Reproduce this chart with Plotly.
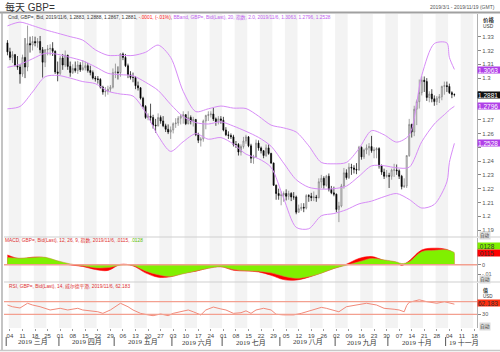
import pandas as pd
import plotly.graph_objects as go

# ---------------- data ----------------
dates = pd.bdate_range("2019-03-01", "2019-11-06")

opens = [1.3255,
 1.3190,1.3150,1.3170,1.3090,1.3080, 1.3030,1.3150,1.3080,1.3250,1.3240,
 1.3265,1.3255,1.3265,1.3205,1.3115, 1.3205,1.3210,1.3215,1.3195,1.3045,
 1.3035,1.3145,1.3095,1.3165,1.3085, 1.3040,1.3070,1.3055,1.3095,1.3060,
 1.3075,1.3090,1.3055,1.3040,1.3000, 1.2995,1.2990,1.2935,1.2900,1.2905,
 1.2920,1.2935,1.3040,1.3045,1.3040, 1.3175,1.3150,1.3090,1.3025,1.3005,
 1.3005,1.2945,1.2930,1.2855,1.2795, 1.2715,1.2725,1.2715,1.2660,1.2655,
 1.2715,1.2690,1.2655,1.2630,1.2610, 1.2625,1.2670,1.2675,1.2710,1.2725,
 1.2735,1.2670,1.2715,1.2690,1.2700, 1.2590,1.2550,1.2560,1.2690,1.2730,
 1.2735,1.2740,1.2705,1.2685,1.2705, 1.2695,1.2625,1.2590,1.2585,1.2575,
 1.2520,1.2520,1.2465,1.2505,1.2545, 1.2575,1.2510,1.2420,1.2430,1.2530,
 1.2495,1.2475,1.2440,1.2495,1.2455, 1.2385,1.2225,1.2165,1.2150,1.2155,
 1.2165,1.2145,1.2165,1.2140,1.2140, 1.2030,1.2055,1.2065,1.2060,1.2150,
 1.2145,1.2135,1.2140,1.2135,1.2250, 1.2275,1.2225,1.2290,1.2195,1.2170,
 1.2160,1.2050,1.2075,1.2220,1.2315, 1.2280,1.2355,1.2350,1.2340,1.2335,
 1.2500,1.2430,1.2480,1.2495,1.2505, 1.2475,1.2480,1.2490,1.2365,1.2320,
 1.2290,1.2295,1.2290,1.2335,1.2335, 1.2330,1.2290,1.2215,1.2220,1.2440,
 1.2665,1.2610,1.2775,1.2830,1.2895, 1.2985,1.2975,1.2860,1.2885,1.2850,
 1.2830,1.2855,1.2865,1.2940,1.2945, 1.2940,1.2895,1.2883]

highs = [1.3275,
 1.3220,1.3195,1.3175,1.3160,1.3100, 1.3170,1.3290,1.3380,1.3300,1.3305,
 1.3300,1.3290,1.3305,1.3225,1.3210, 1.3240,1.3245,1.3260,1.3200,1.3120,
 1.3160,1.3175,1.3200,1.3170,1.3120, 1.3100,1.3120,1.3125,1.3115,1.3130,
 1.3120,1.3110,1.3090,1.3055,1.3015, 1.3015,1.3000,1.2945,1.2935,1.2945,
 1.2950,1.3070,1.3105,1.3085,1.3180, 1.3185,1.3175,1.3105,1.3050,1.3040,
 1.3015,1.2975,1.2935,1.2865,1.2805, 1.2745,1.2815,1.2735,1.2705,1.2745,
 1.2730,1.2725,1.2670,1.2665,1.2650, 1.2680,1.2710,1.2725,1.2740,1.2760,
 1.2740,1.2760,1.2730,1.2720,1.2705, 1.2605,1.2575,1.2700,1.2735,1.2760,
 1.2760,1.2784,1.2715,1.2725,1.2725, 1.2720,1.2645,1.2615,1.2600,1.2590,
 1.2545,1.2530,1.2520,1.2575,1.2590, 1.2580,1.2525,1.2445,1.2555,1.2550,
 1.2505,1.2480,1.2520,1.2520,1.2460, 1.2390,1.2230,1.2200,1.2180,1.2180,
 1.2195,1.2185,1.2175,1.2175,1.2150, 1.2085,1.2095,1.2095,1.2160,1.2160,
 1.2170,1.2180,1.2155,1.2275,1.2300, 1.2290,1.2300,1.2310,1.2220,1.2215,
 1.2165,1.2105,1.2235,1.2350,1.2340, 1.2385,1.2380,1.2370,1.2385,1.2510,
 1.2505,1.2490,1.2520,1.2530,1.2582, 1.2500,1.2500,1.2500,1.2375,1.2345,
 1.2335,1.2315,1.2345,1.2380,1.2375, 1.2340,1.2300,1.2275,1.2440,1.2705,
 1.2670,1.2800,1.2845,1.2990,1.3013, 1.3012,1.3000,1.2905,1.2920,1.2875,
 1.2870,1.2885,1.2945,1.2975,1.2975, 1.2960,1.2905,1.2888]

lows = [1.3165,
 1.3130,1.3110,1.3085,1.3060,1.2960, 1.3010,1.3000,1.3050,1.3185,1.3200,
 1.3230,1.3220,1.3180,1.3004,1.3080, 1.3165,1.3165,1.3160,1.3030,1.2977,
 1.3020,1.3060,1.3080,1.3060,1.3010, 1.3030,1.3040,1.3030,1.3045,1.3055,
 1.3055,1.3040,1.3020,1.2990,1.2975, 1.2960,1.2925,1.2880,1.2866,1.2880,
 1.2900,1.2925,1.3000,1.2990,1.3010, 1.3130,1.3080,1.3000,1.2990,1.2970,
 1.2920,1.2910,1.2845,1.2780,1.2705, 1.2695,1.2680,1.2635,1.2605,1.2650,
 1.2670,1.2645,1.2610,1.2595,1.2560, 1.2600,1.2640,1.2655,1.2665,1.2670,
 1.2660,1.2665,1.2665,1.2650,1.2580, 1.2530,1.2505,1.2540,1.2630,1.2690,
 1.2715,1.2690,1.2655,1.2665,1.2670, 1.2615,1.2580,1.2560,1.2560,1.2505,
 1.2495,1.2440,1.2440,1.2490,1.2525, 1.2500,1.2385,1.2380,1.2425,1.2475,
 1.2455,1.2420,1.2430,1.2445,1.2380, 1.2220,1.2120,1.2120,1.2080,1.2105,
 1.2115,1.2120,1.2110,1.2120,1.2015, 1.2025,1.2040,1.2030,1.2050,1.2105,
 1.2110,1.2110,1.2105,1.2130,1.2205, 1.2200,1.2215,1.2180,1.2160,1.2145,
 1.2030,1.1958,1.2065,1.2200,1.2265, 1.2270,1.2300,1.2310,1.2305,1.2330,
 1.2410,1.2415,1.2450,1.2440,1.2460, 1.2420,1.2420,1.2345,1.2300,1.2270,
 1.2280,1.2205,1.2265,1.2285,1.2300, 1.2270,1.2195,1.2205,1.2205,1.2430,
 1.2570,1.2580,1.2660,1.2780,1.2875, 1.2900,1.2835,1.2825,1.2825,1.2800,
 1.2805,1.2820,1.2840,1.2880,1.2900, 1.2885,1.2855,1.2867]

closes = [1.3190,
 1.3150,1.3170,1.3090,1.3080,1.3030, 1.3150,1.3080,1.3250,1.3240,1.3265,
 1.3255,1.3265,1.3205,1.3115,1.3205, 1.3210,1.3215,1.3195,1.3045,1.3035,
 1.3145,1.3095,1.3165,1.3085,1.3040, 1.3070,1.3055,1.3095,1.3060,1.3075,
 1.3090,1.3055,1.3040,1.3000,1.2995, 1.2990,1.2935,1.2900,1.2905,1.2920,
 1.2935,1.3040,1.3045,1.3040,1.3175, 1.3150,1.3090,1.3025,1.3005,1.3005,
 1.2945,1.2930,1.2855,1.2795,1.2715, 1.2725,1.2715,1.2660,1.2655,1.2715,
 1.2690,1.2655,1.2630,1.2610,1.2625, 1.2670,1.2675,1.2710,1.2725,1.2735,
 1.2670,1.2715,1.2690,1.2700,1.2590, 1.2550,1.2560,1.2690,1.2730,1.2735,
 1.2740,1.2705,1.2685,1.2705,1.2695, 1.2625,1.2590,1.2585,1.2575,1.2520,
 1.2520,1.2465,1.2505,1.2545,1.2575, 1.2510,1.2420,1.2430,1.2530,1.2495,
 1.2475,1.2440,1.2495,1.2455,1.2385, 1.2225,1.2165,1.2150,1.2155,1.2165,
 1.2145,1.2165,1.2140,1.2140,1.2030, 1.2055,1.2065,1.2060,1.2150,1.2145,
 1.2135,1.2140,1.2135,1.2250,1.2275, 1.2225,1.2290,1.2195,1.2170,1.2160,
 1.2050,1.2075,1.2220,1.2315,1.2280, 1.2355,1.2350,1.2340,1.2335,1.2500,
 1.2430,1.2480,1.2495,1.2505,1.2475, 1.2480,1.2490,1.2365,1.2320,1.2290,
 1.2295,1.2290,1.2335,1.2335,1.2330, 1.2290,1.2215,1.2220,1.2440,1.2665,
 1.2610,1.2775,1.2830,1.2895,1.2985, 1.2975,1.2860,1.2885,1.2850,1.2830,
 1.2855,1.2865,1.2940,1.2945,1.2940, 1.2895,1.2882,1.2881]

# Bollinger (20, 2.0) values read at weekly points
bb_dates = ["2019-03-01","2019-03-08","2019-03-15","2019-03-22","2019-03-29","2019-04-05",
            "2019-04-12","2019-04-19","2019-04-26","2019-05-03","2019-05-10","2019-05-17",
            "2019-05-24","2019-05-31","2019-06-07","2019-06-14","2019-06-21","2019-06-28",
            "2019-07-05","2019-07-12","2019-07-19","2019-07-26","2019-08-02","2019-08-09",
            "2019-08-16","2019-08-23","2019-08-30","2019-09-06","2019-09-13","2019-09-20",
            "2019-09-27","2019-10-04","2019-10-11","2019-10-18","2019-10-25","2019-11-01",
            "2019-11-04","2019-11-06"]
bb_upper = [1.3378,1.3405,1.3380,1.3350,1.3325,1.3300,1.3275,1.3205,1.3165,1.3165,1.3164,1.3187,
            1.3239,1.3150,1.2904,1.2758,1.2778,1.2798,1.2783,1.2780,1.2725,1.2660,1.2640,1.2610,
            1.2510,1.2390,1.2380,1.2390,1.2490,1.2620,1.2590,1.2537,1.2588,1.3020,1.3250,1.3255,
            1.3150,1.3063]
bb_mid = [1.3078,1.3100,1.3140,1.3180,1.3172,1.3150,1.3125,1.3082,1.3035,1.3025,1.3017,1.2970,
          1.2911,1.2810,1.2722,1.2678,1.2668,1.2684,1.2653,1.2615,1.2571,1.2507,1.2385,1.2265,
          1.2210,1.2197,1.2200,1.2219,1.2290,1.2365,1.2366,1.2351,1.2355,1.2540,1.2668,1.2752,
          1.2770,1.2796]
bb_lower = [1.2778,1.2795,1.2900,1.3010,1.3020,1.3000,1.2975,1.2960,1.2905,1.2885,1.2870,1.2753,
            1.2583,1.2470,1.2540,1.2598,1.2558,1.2570,1.2523,1.2450,1.2417,1.2354,1.2130,1.1920,
            1.1910,1.2004,1.2020,1.2048,1.2090,1.2110,1.2142,1.2165,1.2122,1.2060,1.2086,1.2249,
            1.2390,1.2528]

# MACD (12, 26, 9) read at weekly points
macd_dates = ["2019-03-01","2019-03-08","2019-03-15","2019-03-22","2019-03-29","2019-04-05",
              "2019-04-12","2019-04-19","2019-04-26","2019-05-03","2019-05-10","2019-05-17",
              "2019-05-24","2019-05-31","2019-06-07","2019-06-14","2019-06-21","2019-06-28",
              "2019-07-05","2019-07-12","2019-07-19","2019-07-26","2019-08-02","2019-08-09",
              "2019-08-16","2019-08-23","2019-08-30","2019-09-06","2019-09-13","2019-09-20",
              "2019-09-27","2019-10-04","2019-10-08","2019-10-11","2019-10-18","2019-10-25",
              "2019-11-01","2019-11-06"]
macd_line = [0.0101,0.0062,0.0078,0.0072,0.0025,-0.0002,-0.0018,-0.0050,-0.0060,0.0003,-0.0012,-0.0085,
             -0.0130,-0.0125,-0.0088,-0.0068,-0.0035,-0.0020,-0.0058,-0.0065,-0.0075,-0.0110,-0.0155,-0.0160,
             -0.0130,-0.0085,-0.0038,0.0005,0.0065,0.0085,0.0045,0.0022,-0.0008,0.0040,0.0153,0.0172,
             0.0158,0.0115]
macd_signal = [0.0075,0.0068,0.0075,0.0077,0.0040,0.0008,-0.0012,-0.0032,-0.0030,-0.0005,-0.0008,-0.0065,
               -0.0105,-0.0122,-0.0095,-0.0065,-0.0038,-0.0022,-0.0050,-0.0062,-0.0068,-0.0085,-0.0120,-0.0142,
               -0.0125,-0.0088,-0.0040,-0.0005,0.0030,0.0065,0.0050,0.0028,0.0012,0.0030,0.0135,0.0150,
               0.0155,0.0128]

# RSI (14) read at trading-day positions
rsi_idx = [0,2,5,8,10,13,17,21,24,28,30,33,36,38,41,45,48,50,53,56,58,61,64,66,69,72,74,77,79,82,
           85,87,90,93,95,97,99,102,105,107,110,114,117,119,122,125,127,130,132,135,139,143,147,150,
           154,156,158,159,160,162,164,167,171,174,176,178]
rsi_vals = [59.5,54,50,65,59.5,54,43.7,49,43.7,49,43.7,40.5,38,33,43.7,65,54,43.7,33,28,25.6,31,25.6,
            33,38,43.7,38,28,43.7,53,47,43.7,33,35,41,33,43.7,49,43.7,30,28,28,33,38,43.7,52,49,43.7,
            38,54,59.5,65,59.5,49,46,43.7,38,58,68,73,76,70,65,70,65,62.2]

week_ticks = pd.date_range("2019-03-04", "2019-11-18", freq="W-MON")
week_labels = ["04","11","18","25","01","08","15","22","29","06","13","20","27","03","10","17",
               "24","01","08","15","22","29","05","12","19","26","02","09","16","23","30","07",
               "14","21","28","04","11","18"]
month_labels = ["2019 三月","2019 四月","2019 五月","2019 六月","2019 七月","2019 八月",
                "2019 九月","2019 十月"]
month_centers = ["2019-03-15","2019-04-15 12:00","2019-05-16","2019-06-14 12:00","2019-07-16",
                 "2019-08-15 12:00","2019-09-16","2019-10-16"]
month_seps = ["2019-02-28 12:00","2019-03-29 12:00","2019-04-30 12:00","2019-05-31 12:00",
              "2019-06-28 12:00","2019-07-31 12:00","2019-08-30 12:00","2019-09-30 12:00",
              "2019-10-31 12:00"]
price_ticks = [1.19,1.2,1.21,1.22,1.23,1.24,1.25,1.26,1.27,1.28,1.29,1.3,1.31,1.32,1.33]
# labels at 1.25, 1.28, 1.29 lie under the value badges
price_tick_text = ["1.19","1.2","1.21","1.22","1.23","1.24","","1.26","1.27","","",
                   "1.3","1.31","1.32","1.33"]

# ---------------- layout geometry (pixels) ----------------
W, H = 500, 352
L, R, T, B = 4, 23, 14, 24
PW, PH = W - L - R, H - T - B
def px(xp):  # pixel x -> paper
    return (xp - L) / PW
def py(yp):  # pixel y -> paper
    return (H - B - yp) / PH

SANS = "Liberation Sans, Arial, Noto Sans CJK SC, sans-serif"
SERIF = "Liberation Serif, Noto Sans CJK SC, serif"
BB_COL = "#d78cf7"

fig = go.Figure()

fig.add_trace(go.Candlestick(
    x=dates, open=opens, high=highs, low=lows, close=closes,
    increasing=dict(line=dict(color="#7a7a7a", width=0.7), fillcolor="#f4f4f4"),
    decreasing=dict(line=dict(color="#000000", width=0.7), fillcolor="#000000"),
    whiskerwidth=0, showlegend=False, hoverinfo="skip", xaxis="x", yaxis="y"))

for vals in (bb_upper, bb_mid, bb_lower):
    fig.add_trace(go.Scatter(x=bb_dates, y=vals, mode="lines",
                             line=dict(color=BB_COL, width=1, shape="spline", smoothing=0.8),
                             showlegend=False, hoverinfo="skip", xaxis="x", yaxis="y"))

# MACD: red = MACD area, green = signal area on top
fig.add_trace(go.Scatter(x=macd_dates, y=macd_line, mode="lines", fill="tozeroy",
                         fillcolor="#ff0000", line=dict(color="#ff0000", width=0.6, shape="spline"),
                         showlegend=False, hoverinfo="skip", xaxis="x", yaxis="y2"))
fig.add_trace(go.Scatter(x=macd_dates, y=macd_signal, mode="lines", fill="tozeroy",
                         fillcolor="#80f000", line=dict(color="#c89a40", width=0.6, shape="spline"),
                         showlegend=False, hoverinfo="skip", xaxis="x", yaxis="y2"))

fig.add_trace(go.Scatter(x=[dates[i] for i in rsi_idx], y=rsi_vals, mode="lines",
                         line=dict(color="#f28a7a", width=1),
                         showlegend=False, hoverinfo="skip", xaxis="x", yaxis="y3"))

shapes = []
# weekly stripes
for k in range(0, len(week_ticks), 2):
    m = week_ticks[k]
    shapes.append(dict(type="rect", xref="x", yref="paper",
                       x0=m - pd.Timedelta(hours=60), x1=m + pd.Timedelta(hours=108),
                       y0=0, y1=1, fillcolor="#f3f3f3", line=dict(width=0), layer="below"))
# MACD zero line, RSI bands
shapes.append(dict(type="line", xref="paper", yref="y2", x0=0, x1=1, y0=0, y1=0,
                   line=dict(color="#f3a090", width=1.5)))
for lv in (70, 30):
    shapes.append(dict(type="line", xref="paper", yref="y3", x0=0, x1=1, y0=lv, y1=lv,
                       line=dict(color="#f3a090", width=1.2)))
# panel separators & frame
for yy in (237, 282):
    shapes.append(dict(type="line", xref="paper", yref="paper", x0=0, x1=px(500),
                       y0=py(yy), y1=py(yy), line=dict(color="#cfcfcf", width=1)))
shapes.append(dict(type="line", xref="paper", yref="paper", x0=px(0), x1=px(500),
                   y0=py(12.5), y1=py(12.5), line=dict(color="#a0a0a0", width=2)))
shapes.append(dict(type="line", xref="paper", yref="paper", x0=px(2), x1=px(2),
                   y0=py(12.5), y1=py(350), line=dict(color="#b0b0b0", width=1.5)))
shapes.append(dict(type="line", xref="paper", yref="paper", x0=px(0), x1=px(500),
                   y0=py(350.5), y1=py(350.5), line=dict(color="#c8c8c8", width=1.5)))
# month separators
for s in month_seps:
    shapes.append(dict(type="line", xref="x", yref="paper", x0=s, x1=s,
                       y0=py(337), y1=py(346), line=dict(color="#555555", width=1)))

ann = []
def text(x, y, s, size, color="#333", xanchor="left", family=SANS, **kw):
    ann.append(dict(x=x, y=y, xref="paper", yref="paper", text=s, showarrow=False,
                    xanchor=xanchor, yanchor="middle", font=dict(size=size, color=color, family=family),
                    **kw))

text(px(3), py(7), "每天 GBP=", 10, "#333")
text(px(497), py(7), "2019/3/1 - 2019/11/19 (GMT)", 5, "#555", xanchor="right")
text(px(6), py(17), "Cndl, GBP=, Bid, 2019/11/6, 1.2883, 1.2888, 1.2867, 1.2881, "
     "<span style='color:#ff2020'>-.0001, (-.01%)</span>, "
     "<span style='color:#c060f0'>BBand, GBP=, Bid(Last), 20, 指数, 2.0, 2019/11/6, 1.3063, 1.2796, 1.2528</span>",
     4.8, "#333")
text(px(3), py(240.5), "MACD, GBP=, Bid(Last), 12, 26, 9, 指数, 2019/11/6, .0115, "
     "<span style='color:#60c000'>.0128</span>", 4.8, "#e03030")
text(px(7), py(286), "RSI, GBP=, Bid(Last), 14, 威尔德平滑, 2019/11/6, 62.183", 4.8, "#e03030")

text(px(481), py(20), "<b>价格</b>", 5.5, "#333")
text(px(481), py(26.5), "USD", 4.8, "#333")
text(px(481), py(290.5), "<b>值</b>", 5, "#333")
text(px(481), py(296), "USD", 4.5, "#333")
text(px(479), py(235.4), "自动", 4.5, "#333", bgcolor="#dcdcdc", borderpad=0)
text(px(479), py(279.5), "自动", 4.8, "#333", bgcolor="#dcdcdc", borderpad=0)
text(px(479), py(326), "自动", 4.8, "#333", bgcolor="#dcdcdc", borderpad=0)

def badge(y, yref, s, bg, fg):
    ann.append(dict(x=px(477.5), y=y, xref="paper", yref=yref, text=s, showarrow=False,
                    xanchor="left", yanchor="middle", bgcolor=bg, width=22, height=6,
                    align="left", borderpad=0,
                    font=dict(size=6.5, color=fg, family=SANS)))

badge(py(70), "paper", "1.3063", "#b040e8", "#ffffff")
badge(1.2881, "y", "1.2881", "#111111", "#ffffff")
badge(1.2796, "y", "1.2796", "#b040e8", "#ffffff")
badge(1.2528, "y", "1.2528", "#b040e8", "#ffffff")
badge(py(245.5), "paper", ".0128", "#80f000", "#333333")
badge(py(252.5), "paper", ".0115", "#ff0000", "#333333")
badge(py(303.3), "paper", "62.183", "#ff3010", "#333333")

for lab, c in zip(month_labels, month_centers):
    ann.append(dict(x=c, y=py(342), xref="x", yref="paper", text=lab, showarrow=False,
                    xanchor="center", yanchor="middle",
                    font=dict(size=7, color="#333", family=SERIF)))
ann.append(dict(x="2019-11-01", y=py(342), xref="x", yref="paper", text="19 十一月",
                showarrow=False, xanchor="left", yanchor="middle",
                font=dict(size=7, color="#333", family=SERIF)))

fig.update_layout(
    width=W, height=H, margin=dict(l=L, r=R, t=T, b=B),
    paper_bgcolor="white", plot_bgcolor="rgba(0,0,0,0)",
    boxgap=0.4,
    shapes=shapes, annotations=ann, showlegend=False,
    xaxis=dict(type="date", anchor="y3", domain=[0, 1],
               range=["2019-02-27 15:00", "2019-11-19 00:00"],
               rangebreaks=[dict(bounds=["sat", "mon"])],
               rangeslider=dict(visible=False),
               tickvals=list(week_ticks), ticktext=week_labels,
               ticks="outside", ticklen=2, tickcolor="#999",
               tickfont=dict(size=6, color="#444", family=SANS),
               showgrid=False, zeroline=False, showline=False),
    yaxis=dict(domain=[py(236.5), 1], range=[1.1854, 1.3464], side="right", anchor="x",
               tickvals=price_ticks, ticktext=price_tick_text, ticks="outside", ticklen=3,
               tickcolor="#888", tickfont=dict(size=6, color="#555", family=SANS),
               showgrid=False, zeroline=False, showline=True, linecolor="#b0b0b0", linewidth=1),
    yaxis2=dict(domain=[py(281.5), py(237.5)], range=[-0.0175, 0.02833], side="right", anchor="x",
                tickvals=[0, -0.01], ticktext=["0", "-.01"], ticks="outside", ticklen=3,
                tickcolor="#888", tickfont=dict(size=5.5, color="#555", family=SANS),
                showgrid=False, zeroline=False, showline=True, linecolor="#b0b0b0", linewidth=1),
    yaxis3=dict(domain=[0, py(282.5)], range=[-13.5, 130.9], side="right", anchor="x",
                tickvals=[30], ticktext=["30"], ticks="outside", ticklen=3,
                tickcolor="#888", tickfont=dict(size=5.5, color="#555", family=SANS),
                showgrid=False, zeroline=False, showline=True, linecolor="#b0b0b0", linewidth=1),
)

fig.write_html("out.html", config={"displayModeBar": False})
